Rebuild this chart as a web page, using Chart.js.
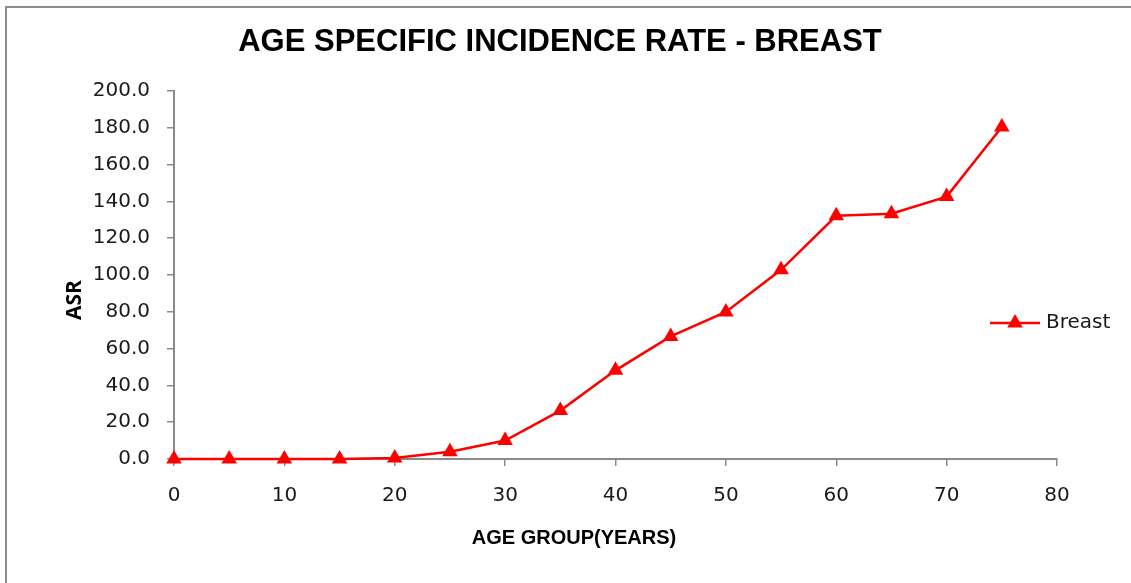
<!DOCTYPE html>
<html>
<head>
<meta charset="utf-8">
<script src="https://cdn.jsdelivr.net/npm/chart.js@4.4.1/dist/chart.umd.min.js"></script>
<style>
  html, body { margin: 0; padding: 0; background: #ffffff; }
  #wrap { width: 1131px; height: 583px; position: relative; }
</style>
</head>
<body>
<div id="wrap"><canvas id="c" width="1131" height="583"></canvas></div>
<script>
// ---- data ----
const ageGroups = [0, 5, 10, 15, 20, 25, 30, 35, 40, 45, 50, 55, 60, 65, 70, 75];
const breastASR = [0.0, 0.0, 0.0, 0.0, 0.5, 4.0, 10.0, 26.3, 48.2, 66.6, 79.9, 102.8, 132.2, 133.3, 142.6, 180.4];
const seriesName = 'Breast';
const chartTitle = 'AGE SPECIFIC INCIDENCE RATE - BREAST';
const xAxisTitle = 'AGE GROUP(YEARS)';
const yAxisTitle = 'ASR';
const xTickMin = 0, xTickMax = 80, xTickStep = 10;
const yTickMin = 0, yTickMax = 200, yTickStep = 20;

const RED = '#ff0000';
const AXIS = '#8a8a8a';
const TXT = '#1a1a1a';

const decor = {
  id: 'decor',
  beforeDraw(chart) {
    const ctx = chart.ctx;
    ctx.save();
    ctx.fillStyle = '#ffffff';
    ctx.fillRect(0, 0, chart.width, chart.height);
    // outer frame (top and left visible)
    ctx.strokeStyle = '#8c8c8c';
    ctx.lineWidth = 2;
    ctx.beginPath();
    ctx.moveTo(6, 583);
    ctx.lineTo(6, 7);
    ctx.lineTo(1131, 7);
    ctx.stroke();
    ctx.restore();
  },
  afterDraw(chart) {
    const ctx = chart.ctx;
    ctx.save();
    // chart title
    ctx.fillStyle = '#000000';
    ctx.font = 'bold 31px "Liberation Sans", Arial, sans-serif';
    ctx.textAlign = 'center';
    ctx.textBaseline = 'middle';
    ctx.fillText(chartTitle, 560, 42);
    // x axis title
    ctx.font = 'bold 20px "Liberation Sans", Arial, sans-serif';
    ctx.fillText(xAxisTitle, 574, 538);
    // y axis title
    ctx.save();
    ctx.translate(75, 300);
    ctx.rotate(-Math.PI / 2);
    ctx.font = 'bold 21px "Open Sans", sans-serif';
    ctx.fillText(yAxisTitle, 0, 0);
    ctx.restore();
    // legend
    const ly = 323;
    ctx.strokeStyle = RED;
    ctx.lineWidth = 2.5;
    ctx.beginPath();
    ctx.moveTo(990, ly);
    ctx.lineTo(1040, ly);
    ctx.stroke();
    ctx.fillStyle = RED;
    const r = 9, cx = 1015, cy = ly;
    ctx.beginPath();
    ctx.moveTo(cx, cy - r);
    ctx.lineTo(cx + r * Math.sin(2 * Math.PI / 3), cy + r / 2);
    ctx.lineTo(cx - r * Math.sin(2 * Math.PI / 3), cy + r / 2);
    ctx.closePath();
    ctx.fill();
    ctx.fillStyle = TXT;
    ctx.textAlign = 'left';
    ctx.font = '20px "DejaVu Sans", sans-serif';
    ctx.fillText(seriesName, 1046, ly);
    ctx.restore();
  }
};

new Chart(document.getElementById('c'), {
  type: 'line',
  data: {
    datasets: [{
      label: seriesName,
      data: ageGroups.map((a, i) => ({ x: a, y: breastASR[i] })),
      borderColor: RED,
      backgroundColor: RED,
      borderWidth: 2.5,
      pointStyle: 'triangle',
      pointRadius: 9,
      pointHoverRadius: 9,
      pointBorderWidth: 0,
      pointBackgroundColor: RED,
      tension: 0,
      clip: false
    }]
  },
  options: {
    responsive: false,
    animation: false,
    events: [],
    layout: { padding: { left: 0, right: 74, top: 91, bottom: 0 } },
    plugins: {
      legend: { display: false },
      title: { display: false },
      tooltip: { enabled: false }
    },
    scales: {
      x: {
        type: 'linear',
        min: xTickMin, max: xTickMax,
        afterFit(s) { s.height = 124; },
        ticks: {
          stepSize: xTickStep,
          color: TXT,
          font: { family: '"DejaVu Sans", sans-serif', size: 20 },
          padding: 18
        },
        grid: { display: true, drawOnChartArea: false, drawTicks: true, tickLength: 7, color: AXIS, lineWidth: 1.5 },
        border: { display: true, color: AXIS, width: 2 }
      },
      y: {
        type: 'linear',
        min: yTickMin, max: yTickMax,
        afterFit(s) { s.width = 174; },
        ticks: {
          stepSize: yTickStep,
          color: TXT,
          font: { family: '"DejaVu Sans", sans-serif', size: 20 },
          padding: 17,
          callback: v => Number(v).toFixed(1)
        },
        grid: { display: true, drawOnChartArea: false, drawTicks: true, tickLength: 7, color: AXIS, lineWidth: 1.5 },
        border: { display: true, color: AXIS, width: 2 }
      }
    }
  },
  plugins: [decor]
});
</script>
</body>
</html>
